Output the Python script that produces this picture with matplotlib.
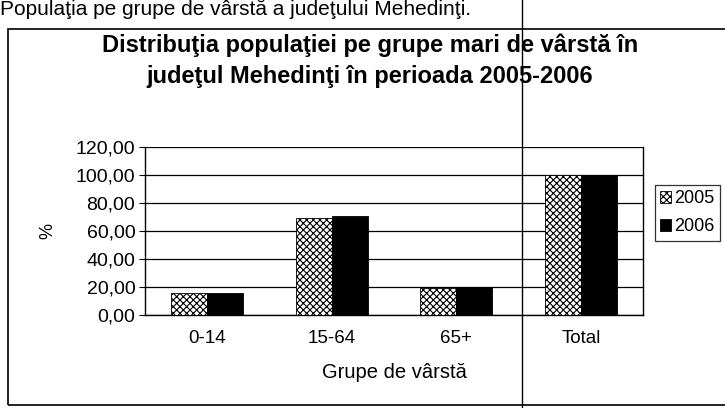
import numpy as np
import matplotlib.pyplot as plt
from matplotlib.patches import Rectangle
from matplotlib.lines import Line2D

plt.rcParams['font.family'] = ['Liberation Sans', 'DejaVu Sans']
plt.rcParams['hatch.linewidth'] = 0.8

groups = ['0-14', '15-64', '65+', 'Total']
val_2005 = [15.9, 69.5, 19.4, 100.0]
val_2006 = [15.7, 71.0, 19.8, 100.0]
yticks = [0, 20, 40, 60, 80, 100, 120]

fig = plt.figure(figsize=(7.25, 4.08), dpi=100)
ax = fig.add_axes([0.2, 0.228, 0.687, 0.412])

x = np.arange(len(groups))
w = 0.29
ax.bar(x - w / 2, val_2005, w, facecolor='white', edgecolor='black',
       hatch='xxxxx', linewidth=0.6, label='2005', zorder=3)
ax.bar(x + w / 2, val_2006, w, facecolor='black', edgecolor='black',
       linewidth=0.6, label='2006', zorder=3)

ax.set_xlim(-0.5, len(groups) - 0.5)
ax.set_ylim(0, 120)
ax.set_yticks(yticks)
ax.set_yticklabels([f'{v:.2f}'.replace('.', ',') for v in yticks], fontsize=14)
ax.set_xticks(x)
ax.set_xticklabels(groups, fontsize=13.5)
ax.tick_params(axis='x', length=0, pad=11)
ax.tick_params(axis='y', length=4, direction='out', pad=3)
ax.yaxis.grid(True, color='black', linewidth=0.9, zorder=0)
ax.set_axisbelow(True)
ax.spines['top'].set_visible(False)
for s in ['left', 'bottom', 'right']:
    ax.spines[s].set_linewidth(1.0)
ax.set_ylabel('%', fontsize=13, labelpad=14)
ax.set_xlabel('Grupe de vârstă', fontsize=14.5, labelpad=11)

fig.text(0.51, 1 - 61 / 408, 'Distribuţia populaţiei pe grupe mari de vârstă în\njudeţul Mehedinţi în perioada 2005-2006',
         ha='center', va='center', fontsize=17, fontweight='bold', linespacing=1.45)

fig.text(0.0, 1 - 15 / 408, 'Populaţia pe grupe de vârstă a judeţului Mehedinţi.',
         ha='left', va='baseline', fontsize=15)

leg = ax.legend(loc='upper left', bbox_to_anchor=(655 / 725, 1 - 185 / 408),
                bbox_transform=fig.transFigure, frameon=True, fontsize=13,
                handlelength=0.6, handleheight=0.6, handletextpad=0.15,
                labelspacing=0.6, borderpad=0.3, borderaxespad=0, fancybox=False)
leg.get_frame().set_edgecolor('black')
leg.get_frame().set_linewidth(0.9)

fig.patches.append(Rectangle((8 / 725, 3 / 408), 1.2, 1 - 32 / 408,
                             transform=fig.transFigure, fill=False,
                             edgecolor='black', linewidth=1.2))
fig.lines.append(Line2D([522 / 725, 522 / 725], [0, 1], transform=fig.transFigure,
                        color='black', linewidth=1.0))

fig.savefig('out.png', dpi=100, facecolor='white')
